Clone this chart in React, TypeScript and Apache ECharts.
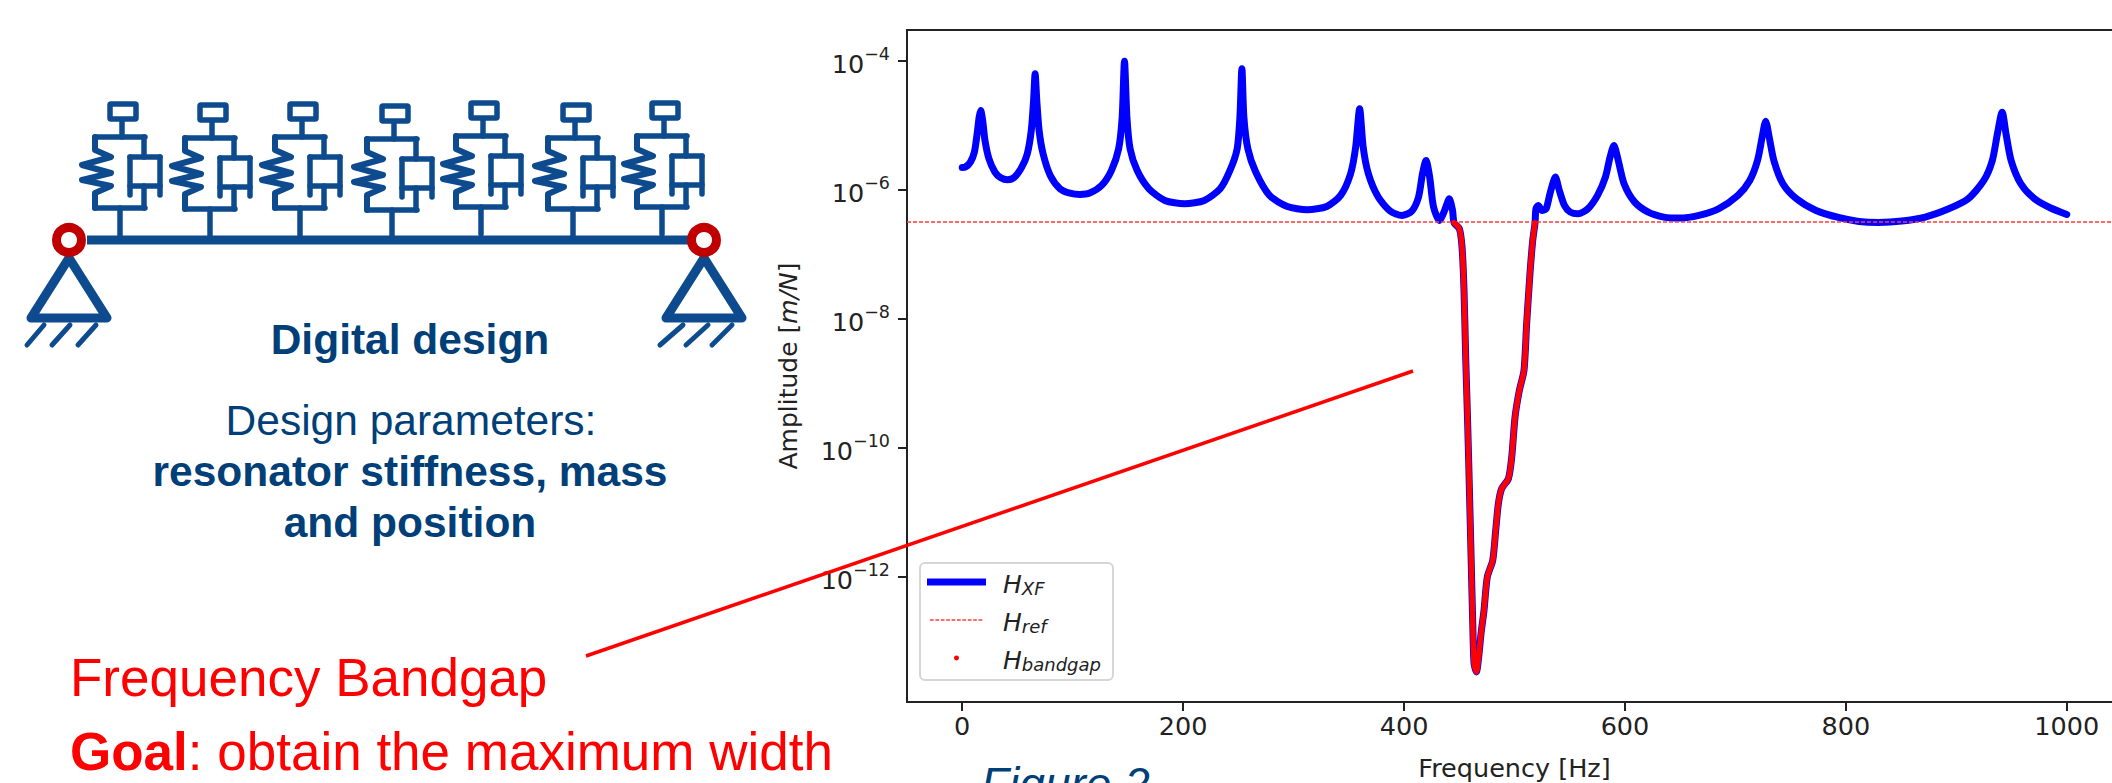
import React, { useEffect, useRef } from "react";
import * as echarts from "echarts";

// Frequency in Hz, amplitude as log10(m/N).
const xfFreq = [0, 2.7, 7.4, 11, 13.5, 15.3, 16.7, 18.5, 20.6, 24.2, 29.6, 34.9, 41, 47.4, 53.9, 58.9, 62.5, 64.6, 66, 67.5, 69.6, 73.2, 79.7, 88.6, 97.5, 106.5, 115.4, 126.2, 135.1, 141.6, 144.8, 146.9, 149.1, 152, 158.4, 169.1, 183.4, 201.3, 219.2, 233.5, 242.4, 248.9, 251.4, 253.2, 255, 258.6, 265.7, 278.2, 294.3, 312.2, 330.1, 342.6, 351.6, 356.2, 359.8, 363, 367.7, 376.6, 387.4, 398.1, 407, 413.1, 416.7, 419.9, 423.2, 426.7, 432.1, 436.7, 441, 443.9, 445.3, 450.1, 452.5, 454.3, 455.8, 457.6, 459.2, 460.7, 462.2, 463.4, 465.5, 467.6, 469.7, 472.4, 475.4, 480.3, 483, 485.4, 488.4, 494.5, 497.5, 500.5, 504.4, 508.6, 511, 514, 516.5, 518.6, 519.4, 521.5, 525, 528.6, 532.1, 537, 540.6, 545.2, 550.5, 557.5, 566.4, 575.2, 582.3, 586.5, 590, 593.6, 599.2, 608.8, 621.1, 635.2, 649.4, 667, 684.7, 702.3, 713, 720, 724.2, 727.4, 730.6, 734.8, 743, 755.3, 773, 794.2, 811.8, 829.5, 850.7, 871.9, 893.1, 910.7, 924.9, 932.6, 937.2, 941.5, 945, 949.6, 958.4, 970.8, 984.9, 1000];
const xfLog = [-5.648, -5.643, -5.565, -5.41, -5.126, -4.868, -4.764, -4.92, -5.23, -5.514, -5.72, -5.808, -5.839, -5.798, -5.643, -5.436, -5.075, -4.609, -4.196, -4.609, -5.075, -5.436, -5.772, -5.979, -6.046, -6.067, -6.046, -5.927, -5.695, -5.359, -4.868, -4.0, -4.868, -5.359, -5.695, -5.979, -6.16, -6.211, -6.16, -5.979, -5.695, -5.359, -4.868, -4.118, -4.868, -5.359, -5.72, -6.082, -6.253, -6.304, -6.253, -6.082, -5.746, -5.333, -4.739, -5.333, -5.746, -6.108, -6.325, -6.392, -6.325, -6.108, -5.746, -5.54, -5.798, -6.263, -6.47, -6.315, -6.134, -6.315, -6.506, -6.599, -6.884, -7.555, -8.589, -9.623, -10.656, -11.69, -12.723, -13.344, -13.473, -13.24, -12.879, -12.517, -12, -11.742, -11.276, -10.863, -10.63, -10.475, -10.139, -9.519, -9.106, -8.796, -8.072, -7.297, -6.78, -6.506, -6.29, -6.237, -6.315, -6.29, -6.056, -5.798, -6.005, -6.237, -6.341, -6.367, -6.29, -6.082, -5.798, -5.488, -5.307, -5.514, -5.901, -6.186, -6.341, -6.418, -6.434, -6.392, -6.29, -6.082, -5.85, -5.54, -5.178, -4.93, -5.178, -5.54, -5.901, -6.134, -6.315, -6.428, -6.485, -6.501, -6.48, -6.418, -6.29, -6.134, -5.85, -5.54, -5.126, -4.79, -5.126, -5.54, -5.901, -6.134, -6.273, -6.377];
const gapFreq = [445.3, 450.1, 452.5, 454.3, 455.8, 457.6, 459.2, 460.7, 462.2, 463.4, 465.5, 467.6, 469.7, 472.4, 475.4, 480.3, 483, 485.4, 488.4, 494.5, 497.5, 500.5, 504.4, 508.6, 511, 514, 516.5, 518.6];
const gapLog = [-6.506, -6.599, -6.884, -7.555, -8.589, -9.623, -10.656, -11.69, -12.723, -13.344, -13.473, -13.24, -12.879, -12.517, -12, -11.742, -11.276, -10.863, -10.63, -10.475, -10.139, -9.519, -9.106, -8.796, -8.072, -7.297, -6.78, -6.506];
const refFreq = [-50, 1050];
const refLog = [-6.495, -6.495];
const xTicks = [0, 200, 400, 600, 800, 1000];
const yTicks = [-12, -10, -8, -6, -4];

const NAVY = "#0d4b8e";
const TEXT_NAVY = "#003f78";
const CHART_FONT = "DejaVu Sans";
const SLIDE_FONT = "Liberation Sans";

// Resonators on the beam of the schematic.
const stemX = [120, 210, 300, 392, 481, 573, 662];
const stemDy = [0, 1, 0, 2, -1, 1, -1];

const toPairs = (f: number[], l: number[]) => f.map((x, i) => [x, Math.pow(10, l[i])]);

function stroke(width: number, color = NAVY) {
  return { stroke: color, fill: "none", lineWidth: width, lineJoin: "round", lineCap: "round" };
}
function pline(points: number[][], width = 5.5) {
  return { type: "polyline", shape: { points }, style: stroke(width) };
}
function resonator(x: number, dy: number) {
  return {
    type: "group",
    x,
    y: dy,
    children: [
      pline([[0, 235], [0, 208]]),
      pline([[-25, 208], [25, 208]]),
      pline([[-25, 137], [25, 137]]),
      pline([[-25, 137], [-25, 150], [-9, 157], [-38, 165], [-9, 173], [-38, 180], [-9, 186], [-25, 193], [-25, 208]], 6),
      pline([[24, 137], [24, 157]]),
      pline([[10, 157], [40, 157]]),
      pline([[10, 157], [10, 195]]),
      pline([[40, 157], [40, 195]]),
      pline([[10, 186], [40, 186]]),
      pline([[24, 186], [24, 208]]),
      pline([[2, 137], [2, 120]]),
      { type: "rect", shape: { x: -10, y: 104, width: 26, height: 15, r: 1 }, style: stroke(5.5) },
    ],
  };
}
function support(cx: number, hatch: number[][][]) {
  return [
    { type: "polygon", shape: { points: [[cx, 258], [cx + 38, 318], [cx - 38, 318]] }, style: stroke(9) },
    ...hatch.map((p) => pline(p, 5)),
    { type: "circle", shape: { cx, cy: 240, r: 12.5 }, style: { fill: "none", stroke: "#c00000", lineWidth: 9 } },
  ];
}

// Legend glyphs: invisible corner points fix the icon box so the visible part keeps its size.
const BOX = "M0 0L0.01 0M59 14L59.01 14";
const iconThick = `path://${BOX}M0 3.5L59 3.5L59 10.5L0 10.5z`;
const iconDash = `path://${BOX}` + [3, 8.4, 13.8, 19.2, 24.6, 30, 35.4, 40.8, 46.2, 51.6].map((x) => `M${x} 6.2L${x + 3.7} 6.2L${x + 3.7} 7.8L${x} 7.8z`).join("");
const iconDot = `path://${BOX}M27 7a2.5 2.5 0 1 0 5 0a2.5 2.5 0 1 0 -5 0z`;

export default function App() {
  const ref = useRef<HTMLDivElement>(null);
  useEffect(() => {
    document.body.style.margin = "0";
    const chart = echarts.init(ref.current!, undefined, { renderer: "svg" });
    const tickColor = "#222";
    const slideText = (text: string, x: number, y: number, size: number, color: string, weight = "normal", align = "center") => ({
      type: "text",
      z: 20,
      style: { text, x, y, fill: color, fontFamily: SLIDE_FONT, fontSize: size, fontWeight: weight, textAlign: align, textVerticalAlign: "middle" },
    });
    const legendText: Record<string, string> = {
      H_XF: "{h|H}{s|XF}",
      H_ref: "{h|H}{s|ref}",
      H_bandgap: "{h|H}{s|bandgap}",
    };
    chart.setOption({
      animation: false,
      backgroundColor: "#fff",
      grid: { left: 907, top: 30, width: 1215, height: 672, outerBoundsMode: "none", show: true, borderColor: tickColor, borderWidth: 2, backgroundColor: "transparent" },
      xAxis: {
        type: "value",
        min: -50,
        max: 1050,
        splitLine: { show: false },
        axisLine: { show: false, onZero: false },
        axisTick: { show: true, length: 9, customValues: xTicks, lineStyle: { color: tickColor, width: 2 } },
        axisLabel: { customValues: xTicks, formatter: (v: number) => String(v), color: tickColor, fontFamily: CHART_FONT, fontSize: 25.5, margin: 11 },
        name: "Frequency [Hz]",
        nameLocation: "middle",
        nameGap: 53,
        nameTextStyle: { color: tickColor, fontFamily: CHART_FONT, fontSize: 25.5 },
      },
      yAxis: {
        type: "log",
        logBase: 10,
        min: Math.pow(10, -13.94),
        max: Math.pow(10, -3.516),
        splitLine: { show: false },
        minorTick: { show: false },
        axisLine: { show: false, onZero: false },
        axisTick: { show: true, length: 9, customValues: yTicks.map((e) => Math.pow(10, e)), lineStyle: { color: tickColor, width: 2 } },
        axisLabel: {
          customValues: yTicks.map((e) => Math.pow(10, e)),
          margin: 17,
          formatter: (v: number) => `{b|10}{s|\u2212${Math.abs(Math.round(Math.log10(v)))}}`,
          rich: {
            b: { color: tickColor, fontFamily: CHART_FONT, fontSize: 25.5, lineHeight: 32, verticalAlign: "bottom" },
            s: { color: tickColor, fontFamily: CHART_FONT, fontSize: 17.5, lineHeight: 32, verticalAlign: "top" },
          },
        },
        name: "{a|Amplitude [}{i|m/N}{a|]}",
        nameLocation: "middle",
        nameGap: 106,
        nameTextStyle: {
          rich: {
            a: { color: tickColor, fontFamily: CHART_FONT, fontSize: 25 },
            i: { color: tickColor, fontFamily: CHART_FONT, fontSize: 25, fontStyle: "italic" },
          },
        },
      },
      legend: {
        left: 920,
        top: 563,
        orient: "vertical",
        selectedMode: false,
        backgroundColor: "#fff",
        borderColor: "#d6d6d6",
        borderWidth: 2,
        borderRadius: 5,
        padding: [7, 12, 7, 7],
        itemWidth: 59,
        itemHeight: 14,
        itemGap: 11,
        data: [
          { name: "H_XF", icon: iconThick },
          { name: "H_ref", icon: iconDash },
          { name: "H_bandgap", icon: iconDot },
        ],
        formatter: (n: string) => legendText[n],
        textStyle: {
          rich: {
            h: { fontFamily: CHART_FONT, fontStyle: "italic", fontSize: 25, color: tickColor, lineHeight: 30, padding: [0, 0, 0, 12], verticalAlign: "bottom" },
            s: { fontFamily: CHART_FONT, fontStyle: "italic", fontSize: 18, color: tickColor, lineHeight: 30, verticalAlign: "bottom", padding: [9, 0, 0, 0] },
          },
        },
      },
      series: [
        { name: "H_XF", type: "line", data: toPairs(xfFreq, xfLog), symbol: "none", smooth: 0.25, color: "#0000ff", lineStyle: { color: "#0000ff", width: 7, cap: "round", join: "round" }, z: 3 },
        { name: "H_ref", type: "line", data: toPairs(refFreq, refLog), symbol: "none", color: "#ff3b3b", lineStyle: { color: "#ff3b3b", width: 1.6, type: [4, 2] }, z: 4 },
        { name: "H_bandgap", type: "line", data: toPairs(gapFreq, gapLog), symbol: "none", smooth: 0.25, color: "#ff0000", lineStyle: { color: "#ff0000", width: 5.5, cap: "round", join: "round" }, z: 5 },
      ],
      graphic: [
        {
          type: "group",
          z: 10,
          children: [
            ...stemX.map((x, i) => resonator(x, stemDy[i])),
            { type: "line", shape: { x1: 87, y1: 240, x2: 688, y2: 240 }, style: { stroke: NAVY, lineWidth: 9 } },
            ...support(69, [[[44, 325], [27, 345]], [[70, 325], [52, 345]], [[96, 325], [78, 345]]]),
            ...support(704, [[[683, 325], [660, 345]], [[708, 325], [686, 345]], [[732, 325], [712, 345]]]),
          ],
        },
        slideText("Digital design", 410, 339, 42.5, TEXT_NAVY, "bold"),
        slideText("Design parameters:", 411, 420, 42.5, TEXT_NAVY),
        slideText("resonator stiffness, mass", 410, 471, 42.5, TEXT_NAVY, "bold"),
        slideText("and position", 410, 522, 42.5, TEXT_NAVY, "bold"),
        slideText("Frequency Bandgap", 70, 677, 53, "#ff0000", "normal", "left"),
        {
          type: "text",
          z: 20,
          style: {
            text: "{b|Goal}{r|: obtain the maximum width}",
            x: 70,
            y: 751,
            textVerticalAlign: "middle",
            rich: {
              b: { fontFamily: SLIDE_FONT, fontSize: 53, fontWeight: "bold", fill: "#ff0000" },
              r: { fontFamily: SLIDE_FONT, fontSize: 53, fill: "#ff0000" },
            },
          },
        },
        {
          type: "text",
          z: 20,
          style: { text: "Figure 2", x: 981, y: 784, fill: TEXT_NAVY, fontFamily: SLIDE_FONT, fontSize: 46, fontStyle: "italic", textVerticalAlign: "middle" },
        },
        { type: "line", z: 30, shape: { x1: 586, y1: 656, x2: 1413, y2: 371 }, style: { stroke: "#ff0000", lineWidth: 3.5 } },
      ],
    });
    return () => chart.dispose();
  }, []);
  return <div ref={ref} style={{ position: "absolute", left: 0, top: 0, width: 2112, height: 783, overflow: "hidden" }} />;
}
